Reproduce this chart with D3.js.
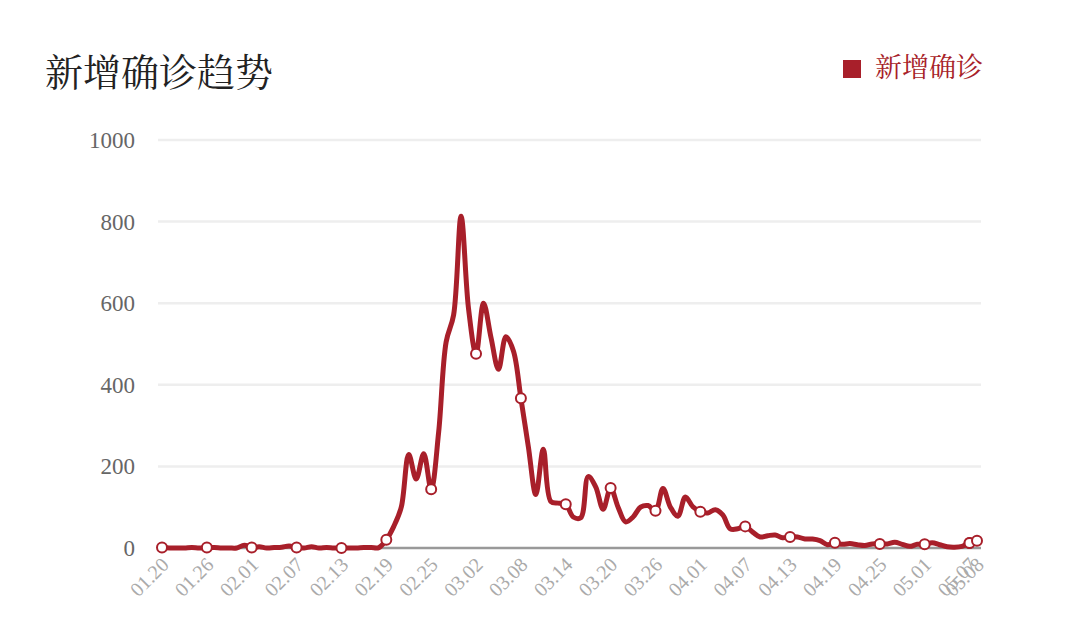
<!DOCTYPE html>
<html><head><meta charset="utf-8">
<script src="https://cdn.jsdelivr.net/npm/d3@7"></script>
<style>body{margin:0;background:#fff}</style>
</head><body><div id="chart"></div>
<script>
const startDate = new Date(2020, 0, 20)
const values = [
  1, 0, 0, 0, 1, 0, 1, 1, 0, 0, 0, 7, // 01.20 - 01.31
  1, 3, 0, 1, 2, 5, 1, 0, 3, 0, 1, 0, 0, 0, 0, 1, 1, 1, 20, 53, 100, 229, 169, 231, 144, 284, 505, 571, 813, // feb
  586, 476, 600, 516, 438, 518, 483, 367, 248, 131, 242, 114, 110, 107, 76, 74, 175, 150, 95, 147, 100, 64, 76, 100, 104, 91, 146, 100, 78, 125, 101, // mar
  89, 86, 94, 81, 47, 47, 53, 39, 27, 30, 32, 25, 27, 27, 22, 22, 18, 8, 13, 9, 11, 8, 6, 10, 10, 10, 14, 9, 4, 9, // apr
  9, 13, 8, 3, 2, 4, 12, 18 // may
]
const yTicks = [0, 200, 400, 600, 800, 1000]
const data = values.map((v, i) => ({ date: d3.timeDay.offset(startDate, i), value: v }))
const markIdx = d3.range(0, values.length, 6).concat([values.length - 2, values.length - 1])
const fmt = d3.timeFormat('%m.%d')
const red = '#a81f2a'

const W = 1080, H = 630
const margin = { top: 140, right: 100, bottom: 82, left: 162 }
const width = 977 - margin.left
const height = 548 - margin.top

const svg = d3.select('#chart').append('svg').attr('width', W).attr('height', H)
const g = svg.append('g').attr('transform', 'translate(' + margin.left + ',' + margin.top + ')')

const x = d3.scaleTime().domain([data[0].date, data[data.length - 1].date]).range([0, width])
const y = d3.scaleLinear().domain([0, 1000]).range([height, 0])

svg.append('text').text('新增确诊趋势').attr('x', 45).attr('y', 86)
  .attr('font-family', 'Noto Serif CJK SC, Noto Sans CJK SC').attr('font-size', 38).attr('fill', '#222')
svg.append('rect').attr('x', 843).attr('y', 60).attr('width', 18).attr('height', 18).attr('fill', red)
svg.append('text').text('新增确诊').attr('x', 875).attr('y', 77)
  .attr('font-family', 'Noto Serif CJK SC, Noto Sans CJK SC').attr('font-size', 27).attr('fill', red)

// grid + y labels
g.selectAll('.grid').data(yTicks.slice(1)).enter().append('line')
  .attr('x1', -4).attr('x2', width + 4).attr('y1', d => y(d)).attr('y2', d => y(d))
  .attr('stroke', '#eee').attr('stroke-width', 2.5)
g.append('line').attr('x1', -4).attr('x2', width + 4).attr('y1', y(0)).attr('y2', y(0))
  .attr('stroke', '#999').attr('stroke-width', 2.5)
g.selectAll('.ylab').data(yTicks).enter().append('text')
  .text(d => d).attr('x', -27).attr('y', d => y(d) + 8).attr('text-anchor', 'end')
  .attr('font-family', 'Liberation Serif, DejaVu Serif').attr('font-size', 23).attr('fill', '#666')

// x labels
g.selectAll('.xlab').data(d3.range(0, values.length, 6).concat([values.length - 1])).enter().append('text')
  .text(i => fmt(data[i].date))
  .attr('transform', i => 'translate(' + (x(data[i].date) + 8) + ',' + (height + 18) + ') rotate(-45)')
  .attr('text-anchor', 'end')
  .attr('font-family', 'Liberation Serif, DejaVu Serif').attr('font-size', 20).attr('fill', '#aaa')

const line = d3.line().x(d => x(d.date)).y(d => y(d.value)).curve(d3.curveCatmullRom)
g.append('path').datum(data).attr('d', line).attr('fill', 'none')
  .attr('stroke', red).attr('stroke-width', 5).attr('stroke-linejoin', 'round')

g.selectAll('.dot').data(markIdx.map(i => data[i])).enter().append('circle')
  .attr('cx', d => x(d.date)).attr('cy', d => y(d.value)).attr('r', 5)
  .attr('fill', '#fff').attr('stroke', red).attr('stroke-width', 2)
</script></body></html>
